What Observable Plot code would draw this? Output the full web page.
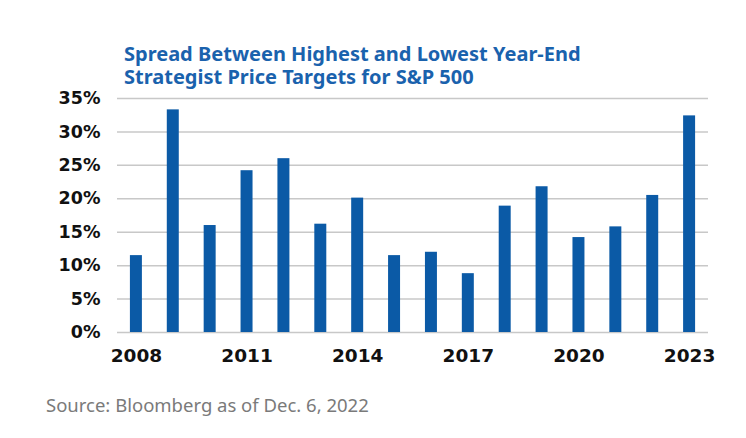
<!DOCTYPE html>
<html>
<head>
<meta charset="utf-8">
<script src="https://cdn.jsdelivr.net/npm/d3@7"></script>
<script src="https://cdn.jsdelivr.net/npm/@observablehq/plot@0.6"></script>
<style>
  html, body { margin: 0; padding: 0; background: #fff; width: 746px; height: 438px; overflow: hidden; }
  body { position: relative; font-family: "Noto Sans", sans-serif; }
  .title { position: absolute; left: 124px; color: #1a62ad; font-weight: bold; font-size: 20px; line-height: 1; white-space: nowrap; }
  #t1 { top: 43.5px; }
  #t2 { top: 67px; }
  #chart { position: absolute; left: 0; top: 84px; }
  #caption { position: absolute; left: 46px; top: 396px; color: #7a7a7a; font-size: 18.5px; line-height: 1; white-space: nowrap; }
</style>
</head>
<body>
<div class="title" id="t1">Spread Between Highest and Lowest Year-End</div>
<div class="title" id="t2">Strategist Price Targets for S&amp;P 500</div>
<div id="chart"></div>
<div id="caption">Source: Bloomberg as of Dec. 6, 2022</div>
<script>
const years = [2008, 2009, 2010, 2011, 2012, 2013, 2014, 2015, 2016, 2017, 2018, 2019, 2020, 2021, 2022, 2023];
const spreads = [11.5, 33.3, 16.0, 24.2, 26.0, 16.2, 20.1, 11.5, 12.0, 8.8, 18.9, 21.8, 14.2, 15.8, 20.5, 32.4];
const yTicks = [0, 5, 10, 15, 20, 25, 30, 35];
const xTicks = [2008, 2011, 2014, 2017, 2020, 2023];

const data = years.map((y, i) => ({year: y, value: spreads[i]}));

const chart = Plot.plot({
  width: 746,
  height: 288,
  marginTop: 14,
  marginBottom: 40,
  marginLeft: 117,
  marginRight: 38,
  style: {fontFamily: "DejaVu Sans, sans-serif", background: "transparent", overflow: "visible"},
  x: {type: "band", domain: years, paddingInner: 0.675, paddingOuter: 0.35, round: false},
  y: {domain: [0, 35]},
  marks: [
    Plot.gridY(yTicks, {stroke: "#c8c8c8", strokeOpacity: 1, strokeWidth: 1.5}),
    Plot.barY(data, {x: "year", y: "value", fill: "#0b5aa6"}),
    Plot.axisY(yTicks, {tickSize: 0, tickPadding: 17, tickFormat: d => d + "%", fontSize: 17.5, fontWeight: "bold", fill: "#111", label: null}),
    Plot.axisX(xTicks, {tickSize: 0, tickPadding: 16, tickFormat: d => String(d), fontSize: 18.5, fontWeight: "bold", fill: "#111", label: null})
  ]
});
document.getElementById("chart").appendChild(chart);
</script>
</body>
</html>
